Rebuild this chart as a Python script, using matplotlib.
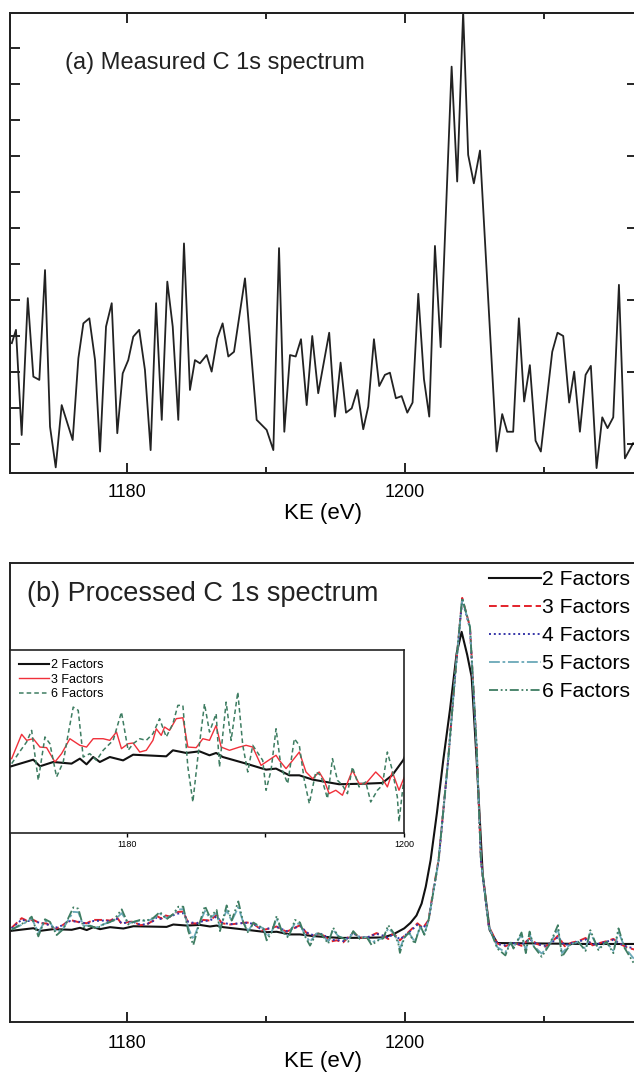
import numpy as np
import matplotlib
matplotlib.use("Agg")
import matplotlib.pyplot as plt
from matplotlib.ticker import MultipleLocator, FixedLocator

plt.rcParams['font.family'] = ['Liberation Sans', 'DejaVu Sans']

# ---- (a) measured C 1s spectrum ----
ke_meas = [1171.71, 1172.01, 1172.42, 1172.86, 1173.26, 1173.69, 1174.10, 1174.46, 1174.87, 1175.30,
           1176.09, 1176.50, 1176.86, 1177.29, 1177.70, 1178.06, 1178.49, 1178.90, 1179.30, 1179.69,
           1180.09, 1180.45, 1180.88, 1181.29, 1181.70, 1182.09, 1182.50, 1182.90, 1183.29, 1183.69,
           1184.10, 1184.53, 1184.89, 1185.25, 1185.73, 1186.09, 1186.50, 1186.88, 1187.29, 1187.70,
           1188.49, 1189.33, 1190.05, 1190.53, 1190.94, 1191.32, 1191.73, 1192.14, 1192.52, 1192.93,
           1193.33, 1193.76, 1194.55, 1194.96, 1195.37, 1195.76, 1196.17, 1196.57, 1197.00, 1197.36,
           1197.77, 1198.15, 1198.56, 1198.92, 1199.35, 1199.76, 1200.17, 1200.55, 1200.96, 1201.37,
           1201.75, 1202.16, 1202.57, 1203.36, 1203.76, 1204.19, 1204.55, 1204.96, 1205.40, 1206.60,
           1207.00, 1207.36, 1207.79, 1208.20, 1208.58, 1208.99, 1209.40, 1209.78, 1210.60, 1210.98,
           1211.39, 1211.82, 1212.18, 1212.59, 1213.00, 1213.38, 1213.79, 1214.20, 1214.58, 1214.99,
           1215.40, 1215.83, 1216.42]
cts_meas = [38.0, 41.7, 12.5, 50.5, 28.7, 27.8, 58.3, 14.8, 3.5, 20.8,
            11.1, 33.8, 43.5, 44.9, 33.3, 7.9, 42.6, 49.1, 13.0, 29.6,
            33.3, 39.8, 41.7, 30.6, 8.3, 49.1, 16.7, 55.1, 42.6, 16.7,
            65.7, 25.0, 33.3, 32.4, 34.7, 30.1, 39.4, 43.5, 34.3, 35.6,
            56.0, 16.7, 13.9, 8.3, 64.4, 13.4, 34.7, 34.3, 39.1, 20.8,
            40.0, 24.1, 40.9, 17.6, 32.6, 18.7, 19.9, 25.0, 14.1, 20.4,
            39.1, 26.1, 29.2, 29.8, 22.7, 23.3, 18.7, 21.5, 51.7, 28.0,
            17.6, 65.0, 36.9, 114.8, 82.9, 130.0, 90.3, 82.4, 91.5, 7.9,
            18.3, 13.4, 13.4, 44.9, 21.8, 31.9, 10.9, 7.9, 35.6, 40.9,
            40.0, 21.5, 30.1, 13.4, 29.2, 31.7, 3.3, 17.4, 14.4, 17.4,
            54.2, 6.0, 10.2]

# ---- (b) processed spectra (factor analysis reconstructions) ----
ke_2f = [1171.5, 1173.26, 1173.74, 1174.70, 1176.02, 1176.62, 1177.10, 1177.58, 1178.06, 1178.78,
         1179.74, 1180.46, 1182.85, 1183.33, 1184.29, 1185.25, 1185.97, 1186.45, 1186.93, 1188.61,
         1190.05, 1190.77, 1191.73, 1192.45, 1193.41, 1195.32, 1197.24, 1198.44, 1199.16, 1199.95,
         1200.40, 1200.83, 1201.20, 1201.50, 1201.85, 1202.30, 1202.76, 1203.24, 1203.72, 1204.08,
         1204.48, 1204.80, 1205.16, 1205.60, 1206.10, 1206.65, 1210.0, 1213.0, 1216.8]
int_2f = [19.80, 20.43, 19.86, 20.23, 20.09, 20.52, 20.03, 20.66, 20.23, 20.66,
          20.37, 20.86, 20.72, 21.24, 21.01, 21.15, 20.81, 21.01, 20.66, 20.09,
          19.57, 19.66, 19.08, 19.08, 18.71, 18.31, 18.36, 18.42, 19.10, 20.40,
          21.6, 23.2, 25.8, 29.5, 35.3, 45.5, 57.1, 68.0, 80.3, 85.0,
          80.0, 75.2, 57.1, 32.0, 20.0, 17.2, 17.1, 17.0, 17.0]

ke_3f = [1171.70, 1172.42, 1172.78, 1173.26, 1173.74, 1174.22, 1174.82, 1175.30, 1175.90, 1176.62,
         1177.10, 1177.58, 1178.30, 1178.78, 1179.26, 1179.62, 1180.10, 1180.46, 1180.94, 1181.41,
         1181.89, 1182.13, 1182.49, 1182.73, 1183.09, 1183.57, 1184.05, 1184.41, 1185.01, 1185.49,
         1185.97, 1186.45, 1186.81, 1187.41, 1188.13, 1188.61, 1189.09, 1189.69, 1190.05, 1190.77,
         1191.01, 1191.49, 1191.97, 1192.45, 1192.93, 1193.41, 1193.88, 1194.24, 1194.60, 1195.08,
         1195.56, 1196.28, 1196.76, 1197.24, 1197.96, 1198.44, 1198.80, 1199.16, 1199.64, 1199.88,
         1200.40, 1200.90, 1201.30, 1201.70, 1202.00, 1202.42, 1203.11, 1203.60, 1204.12, 1204.68,
         1205.16, 1205.47, 1206.04, 1206.65, 1207.23, 1207.81, 1208.39, 1208.97, 1209.50, 1210.10,
         1210.60, 1211.01, 1211.50, 1212.00, 1212.46, 1213.00, 1213.50, 1214.00, 1214.50, 1215.00,
         1215.50, 1216.00, 1216.50]
int_3f = [20.52, 22.62, 22.10, 22.24, 21.52, 21.47, 20.23, 20.95, 22.24, 21.67,
          21.52, 22.24, 22.24, 22.10, 22.82, 21.38, 21.81, 21.87, 21.09, 21.24,
          22.10, 23.10, 22.53, 23.25, 22.96, 23.97, 24.05, 21.52, 21.47, 22.24,
          22.10, 23.39, 21.52, 21.24, 21.52, 21.67, 21.52, 19.94, 20.23, 20.81,
          20.37, 19.66, 20.37, 21.09, 19.37, 18.79, 19.37, 18.65, 17.50, 17.79,
          17.36, 19.51, 18.36, 18.36, 19.37, 18.79, 18.08, 19.37, 17.79, 18.51,
          20.0, 21.5, 20.5, 22.2, 28.0, 35.3, 57.1, 75.2, 92.4, 86.1,
          59.9, 35.3, 20.8, 17.1, 16.5, 17.3, 16.6, 18.2, 17.0, 16.4,
          17.5, 18.8, 16.5, 17.3, 17.6, 18.3, 16.7, 17.2, 17.6, 18.1,
          17.0, 16.2, 15.8]
int_4f = [20.4, 22.3, 22.0, 22.0, 21.6, 21.3, 20.5, 21.0, 22.0, 21.8,
          21.4, 22.0, 22.1, 22.0, 22.5, 21.5, 21.7, 21.8, 21.2, 21.3,
          22.0, 22.8, 22.4, 23.0, 22.9, 23.6, 23.7, 21.8, 21.5, 22.0,
          22.1, 23.0, 21.7, 21.3, 21.5, 21.6, 21.4, 20.1, 20.3, 20.7,
          20.4, 19.8, 20.4, 20.9, 19.5, 18.9, 19.3, 18.8, 17.8, 17.9,
          17.6, 19.3, 18.5, 18.4, 19.2, 18.8, 18.3, 19.2, 18.0, 18.6,
          19.8, 21.2, 20.4, 22.0, 27.6, 35.0, 57.0, 75.0, 92.0, 85.8,
          59.5, 35.0, 20.6, 17.0, 16.7, 17.2, 16.8, 18.0, 17.0, 16.6,
          17.4, 18.5, 16.7, 17.2, 17.5, 18.0, 16.9, 17.1, 17.5, 17.9,
          17.0, 16.4, 16.0]

ke_6f = [1171.70, 1172.18, 1172.78, 1173.14, 1173.62, 1174.10, 1174.46, 1174.94, 1175.42, 1175.78,
         1176.14, 1176.50, 1176.86, 1177.34, 1177.82, 1178.30, 1179.02, 1179.62, 1180.10, 1180.46,
         1180.94, 1181.41, 1181.89, 1182.37, 1182.85, 1183.33, 1183.69, 1184.05, 1184.41, 1184.77,
         1185.13, 1185.61, 1185.97, 1186.45, 1186.69, 1187.17, 1187.53, 1188.01, 1188.37, 1188.73,
         1189.09, 1189.81, 1190.05, 1190.41, 1190.77, 1191.13, 1191.61, 1192.09, 1192.45, 1192.81,
         1193.17, 1193.64, 1194.00, 1194.48, 1194.84, 1195.20, 1195.56, 1195.92, 1196.28, 1196.76,
         1197.24, 1197.60, 1198.08, 1198.44, 1198.80, 1199.16, 1199.52, 1199.64, 1199.95,
         1200.30, 1200.70, 1201.10, 1201.40, 1201.70, 1202.00, 1202.42, 1203.11, 1203.60, 1204.12,
         1204.68, 1205.16, 1205.47, 1206.04, 1206.65, 1207.23, 1207.60, 1207.81, 1208.39, 1208.70,
         1208.97, 1209.26, 1209.84, 1210.43, 1211.01, 1211.30, 1211.88, 1212.46, 1213.00, 1213.34,
         1213.92, 1214.50, 1215.00, 1215.37, 1215.81, 1216.47]
int_6f = [20.09, 20.95, 21.96, 22.96, 18.65, 22.39, 21.81, 18.94, 20.23, 22.67,
          24.97, 24.69, 20.66, 20.95, 20.37, 21.24, 22.10, 24.54, 21.24, 21.81,
          22.24, 22.10, 22.67, 23.97, 22.39, 23.54, 25.12, 25.12, 19.80, 16.78,
          20.66, 25.26, 22.82, 24.40, 19.80, 25.40, 22.10, 26.27, 21.67, 19.37,
          21.67, 20.37, 17.79, 19.51, 23.10, 19.80, 18.36, 22.24, 21.67, 18.65,
          16.64, 19.37, 19.08, 17.07, 20.52, 18.65, 18.22, 17.50, 19.80, 18.08,
          18.51, 16.78, 17.79, 18.22, 21.09, 19.51, 17.21, 15.06, 18.36,
          19.5, 17.0, 21.0, 19.0, 22.2, 27.5, 35.3, 57.1, 75.2, 92.4,
          86.1, 59.9, 35.3, 20.8, 16.0, 14.5, 17.5, 16.0, 19.5, 15.0,
          19.7, 16.5, 14.2, 17.0, 21.1, 14.2, 16.8, 17.5, 15.5, 20.0,
          15.7, 17.5, 15.0, 20.4, 16.1, 12.8]
int_5f = [20.2, 20.8, 21.8, 22.6, 19.5, 22.0, 21.6, 19.6, 20.4, 22.3,
          24.0, 23.9, 21.0, 21.0, 20.6, 21.3, 22.0, 23.7, 21.5, 21.8,
          22.1, 22.0, 22.5, 23.6, 22.6, 23.4, 24.5, 24.6, 20.5, 18.0,
          20.9, 24.2, 22.6, 23.8, 20.4, 24.4, 22.0, 25.0, 21.7, 19.9,
          21.5, 20.4, 18.6, 19.7, 22.4, 19.9, 18.8, 21.6, 21.3, 18.9,
          17.5, 19.3, 19.0, 17.6, 20.1, 18.7, 18.3, 17.8, 19.6, 18.3,
          18.5, 17.3, 18.0, 18.3, 20.4, 19.4, 17.6, 16.0, 18.4,
          19.4, 17.5, 20.6, 19.2, 22.1, 27.6, 35.2, 57.0, 75.1, 92.2,
          86.0, 59.8, 35.2, 20.7, 16.3, 15.2, 17.3, 16.3, 19.0, 15.6,
          19.2, 16.6, 14.9, 17.0, 20.3, 15.0, 16.9, 17.4, 15.9, 19.4,
          16.0, 17.4, 15.5, 19.6, 16.3, 13.8]

labels = ['2 Factors', '3 Factors', '4 Factors', '5 Factors', '6 Factors']

W, H = 634, 1072
fig = plt.figure(figsize=(W / 100, H / 100), dpi=100)

xlim = (1171.58, 1216.7)

# ---------- panel (a) ----------
ax_a = fig.add_axes([10 / W, 1 - 473 / H, 627 / W, 460 / H])
ax_a.plot(ke_meas, cts_meas, color='#222222', lw=1.3)
ax_a.set_xlim(xlim)
ax_a.set_ylim(1.94, 129.7)
ax_a.xaxis.set_major_locator(MultipleLocator(20))
ax_a.xaxis.set_minor_locator(MultipleLocator(10))
ax_a.yaxis.set_major_locator(FixedLocator(np.arange(10, 121, 10)))
ax_a.set_yticklabels([])
ax_a.tick_params(axis='x', which='both', direction='in', top=True, labelsize=13, pad=8, width=1.2)
ax_a.tick_params(axis='x', which='major', length=7)
ax_a.tick_params(axis='x', which='minor', length=4)
ax_a.tick_params(axis='y', direction='in', length=7, width=1.2)
ax_a_r = ax_a.twinx()
ax_a_r.set_ylim(ax_a.get_ylim())
ax_a_r.yaxis.set_major_locator(FixedLocator(np.arange(10, 120, 20)))
ax_a_r.set_yticklabels([])
ax_a_r.tick_params(axis='y', direction='in', length=7, width=1.2)
ax_a.set_xlabel('KE (eV)', fontsize=16, labelpad=1)
ax_a.text(0.088, 0.891, '(a) Measured C 1s spectrum', transform=ax_a.transAxes,
          fontsize=17, va='center', ha='left', color='#222222')
for sp in list(ax_a.spines.values()) + list(ax_a_r.spines.values()):
    sp.set_linewidth(1.4)
    sp.set_color('#222222')

# ---------- panel (b) ----------
ax_b = fig.add_axes([10 / W, 1 - 1022 / H, 627 / W, 459 / H])
styles = [
    dict(color='#111111', ls='-', lw=1.5),
    dict(color='#e3222b', ls=(0, (4, 2)), lw=1.4),
    dict(color='#3535a8', ls=(0, (1, 1.5)), lw=1.4),
    dict(color='#6aa8b8', ls=(0, (6, 1.5, 1.5, 1.5)), lw=1.3),
    dict(color='#3e7d62', ls=(0, (5, 1.5, 1, 1.5, 1, 1.5)), lw=1.3),
]
series = [(ke_2f, int_2f), (ke_3f, int_3f), (ke_3f, int_4f), (ke_6f, int_5f), (ke_6f, int_6f)]
for (xs, ys), st, lab in zip(series, styles, labels):
    ax_b.plot(xs, ys, label=lab, **st)
ax_b.set_xlim(xlim)
ax_b.set_ylim(0, 100)
ax_b.set_yticks([])
ax_b.xaxis.set_major_locator(MultipleLocator(20))
ax_b.xaxis.set_minor_locator(MultipleLocator(10))
ax_b.tick_params(axis='x', which='both', direction='in', labelsize=13, pad=9, width=1.2)
ax_b.tick_params(axis='x', which='major', length=7)
ax_b.tick_params(axis='x', which='minor', length=4)
ax_b.set_xlabel('KE (eV)', fontsize=16, labelpad=0)
ax_b.text(0.027, 0.932, '(b) Processed C 1s spectrum', transform=ax_b.transAxes,
          fontsize=19.5, va='center', ha='left', color='#222222')
for sp in ax_b.spines.values():
    sp.set_linewidth(1.4)
    sp.set_color('#222222')
ax_b.legend(loc='upper left', bbox_to_anchor=(489 / W, 1 - 570 / H), bbox_transform=fig.transFigure,
            frameon=False, fontsize=15.2, handlelength=2.45, handletextpad=0.06,
            labelspacing=0.43, borderpad=0, borderaxespad=0)

# ---------- inset ----------
ax_in = fig.add_axes([10 / W, 1 - 833 / H, 394 / W, 183 / H])
ax_in.plot(ke_2f, int_2f, color='#111111', lw=1.5, label='2 Factors')
ax_in.plot(ke_3f, int_3f, color='#f0303a', lw=1.0, label='3 Factors')
ax_in.plot(ke_6f, int_6f, color='#3e7d62', lw=1.1, ls=(0, (3, 2)), label='6 Factors')
ax_in.set_xlim(1171.58, 1199.93)
ax_in.set_ylim(14.1, 29.9)
ax_in.set_yticks([])
ax_in.set_xticks([1180, 1190, 1200])
ax_in.set_xticklabels(['1180', '', '1200'])
ax_in.tick_params(axis='x', direction='out', length=3, labelsize=6.5, pad=2, width=1)
for sp in ax_in.spines.values():
    sp.set_linewidth(1.2)
    sp.set_color('#222222')
ax_in.legend(loc='upper left', bbox_to_anchor=(0.005, 0.99), frameon=False, fontsize=9,
             handlelength=2.4, handletextpad=0.15, labelspacing=0.2, borderpad=0.1)

fig.savefig('out.png', dpi=100)
